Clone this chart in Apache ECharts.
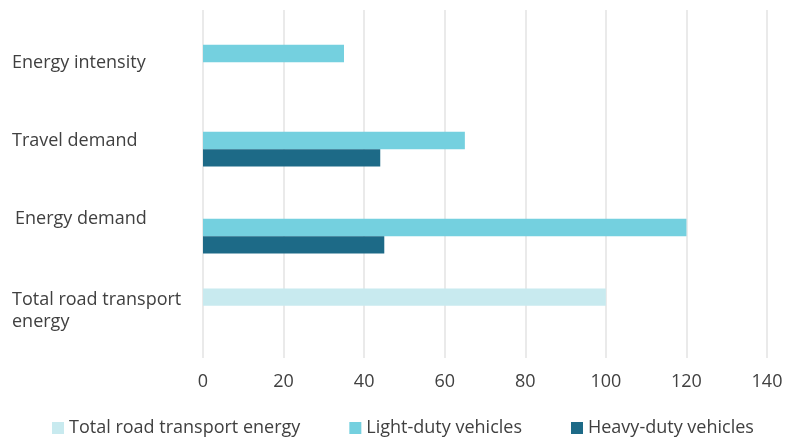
<!DOCTYPE html>
<html>
<head>
<meta charset="utf-8">
<script src="https://cdn.jsdelivr.net/npm/echarts@6/dist/echarts.min.js"></script>
<style>
  html, body { margin: 0; padding: 0; background: #fff; }
  #chart { width: 787px; height: 438px; }
</style>
</head>
<body>
<div id="chart"></div>
<script>
// categories top to bottom
var categories = ['Energy intensity', 'Travel demand', 'Energy demand', 'Total road transport energy'];
var seriesNames = ['Total road transport energy', 'Light-duty vehicles', 'Heavy-duty vehicles'];
var totalRoad = [null, null, null, 100];
var lightDuty = [35, 65, 120, null];
var heavyDuty = [null, 44, 45, null];
var xTicks = [0, 20, 40, 60, 80, 100, 120, 140];

(function(){
	var font = 'Open Sans';
	var txt = { color: '#404040', fontSize: 18, fontFamily: font, lineHeight: 24 };
	var option = {
		animation: false,
		grid: {
			left: 203,
			right: 20,
			top: 10,
			bottom: 80
		},
		legend: {
			data: seriesNames,
			top: 414,
			left: 47,
			itemWidth: 12,
			itemHeight: 12,
			itemGap: 49,
			icon: 'rect',
			textStyle: { color: '#404040', fontSize: 18, fontFamily: font }
		},
		xAxis: {
			type: 'value',
			min: xTicks[0],
			max: xTicks[xTicks.length - 1],
			interval: 20,
			axisLine: { show: false },
			axisTick: { show: false },
			axisLabel: { color: '#404040', fontSize: 18, fontFamily: font, margin: 15 },
			splitLine: { lineStyle: { color: '#e3e3e3', width: 1.5 } }
		},
		yAxis: {
			type: 'category',
			inverse: true,
			data: categories,
			axisLine: { show: false },
			axisTick: { show: false },
			axisLabel: {
				align: 'left',
				margin: 191,
				color: '#404040',
				fontSize: 18,
				fontFamily: font,
				formatter: function(v){
					if (v === 'Energy intensity') return '{a|' + v + '}';
					if (v === 'Energy demand') return '{b|' + v + '}';
					if (v === 'Total road transport energy') return '{t|Total road transport}\n{u|energy}';
					return '{n|' + v + '}';
				},
				rich: {
					n: txt,
					a: Object.assign({}, txt, { padding: [19, 0, 0, 0] }),
					b: Object.assign({}, txt, { padding: [0, 0, 17, 3] }),
					t: Object.assign({}, txt, { padding: [0, 0, 6, 0] }),
					u: Object.assign({}, txt, { padding: [0, 0, 10, 0] })
				}
			}
		},
		series: [
			{ name: seriesNames[0], type: 'bar', data: totalRoad, barGap: '0%', barCategoryGap: '40%',
			  itemStyle: { color: '#c8eaef' } },
			{ name: seriesNames[1], type: 'bar', data: lightDuty, barGap: '0%', barCategoryGap: '40%',
			  itemStyle: { color: '#74d0df' } },
			{ name: seriesNames[2], type: 'bar', data: heavyDuty, barGap: '0%', barCategoryGap: '40%',
			  itemStyle: { color: '#1d6a87' } }
		]
	};
	var myChart = echarts.init(document.getElementById('chart'));
	myChart.setOption(option);
})();
</script>
</body>
</html>
